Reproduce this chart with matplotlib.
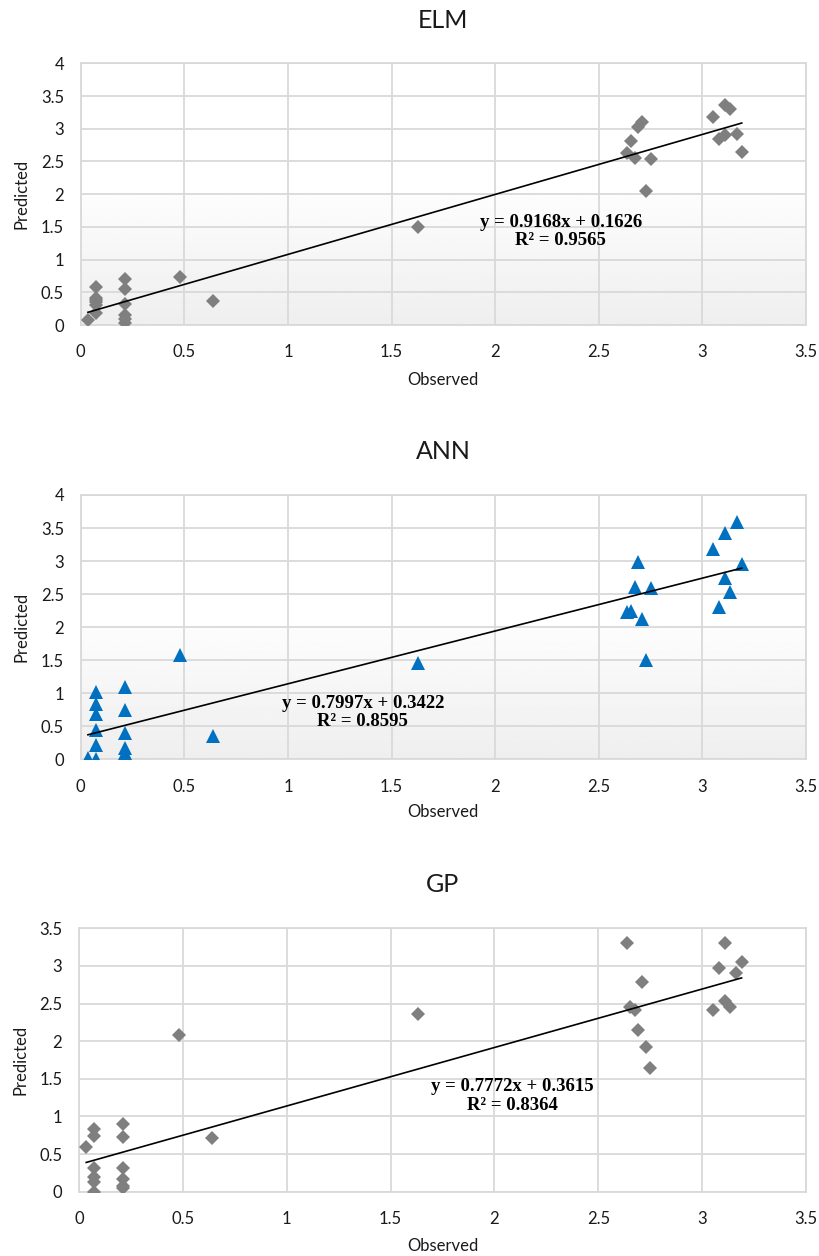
import matplotlib
matplotlib.use('Agg')
import matplotlib.pyplot as plt
import numpy as np

plt.rcParams.update({
    'font.family': ['Lato', 'DejaVu Sans'],
    'font.size': 12,
})

# Observed values (shared by the three models)
observed = [0.035,
            0.074, 0.074, 0.074, 0.074, 0.074, 0.074,
            0.214, 0.214, 0.214, 0.214, 0.214, 0.214,
            0.48, 0.64, 1.63,
            2.636, 2.655, 2.675, 2.69, 2.71, 2.73, 2.75,
            3.05, 3.08, 3.11, 3.11, 3.135, 3.165, 3.19]

elm_pred = [0.08,
            0.58, 0.41, 0.38, 0.35, 0.31, 0.19,
            0.71, 0.55, 0.32, 0.15, 0.10, 0.03,
            0.74, 0.37, 1.50,
            2.63, 2.82, 2.55, 3.03, 3.11, 2.05, 2.53,
            3.18, 2.85, 3.36, 2.90, 3.30, 2.92, 2.65]

ann_pred = [0.02,
            1.02, 0.84, 0.69, 0.45, 0.21, 0.0,
            1.10, 0.75, 0.39, 0.17, 0.10, 0.05,
            1.58, 0.35, 1.46,
            2.23, 2.25, 2.60, 2.99, 2.13, 1.50, 2.59,
            3.18, 2.31, 3.43, 2.74, 2.53, 3.59, 2.95]

gp_pred = [0.59,
           0.83, 0.74, 0.32, 0.20, 0.13, 0.0,
           0.90, 0.73, 0.31, 0.165, 0.076, 0.045,
           2.08, 0.72, 2.36,
           3.31, 2.46, 2.41, 2.15, 2.78, 1.92, 1.65,
           2.42, 2.97, 3.31, 2.53, 2.45, 2.91, 3.05]

model_names = ['ELM', 'ANN', 'GP']
slopes = [0.9168, 0.7997, 0.7772]
intercepts = [0.1626, 0.3422, 0.3615]
r2_values = [0.9565, 0.8595, 0.8364]
y_max = [4, 4, 3.5]

preds = [elm_pred, ann_pred, gp_pred]
markers = ['D', '^', 'D']
marker_colors = ['#7f7f7f', '#0070c0', '#7f7f7f']
marker_sizes = [7.2, 9.5, 7.2]
gradient_bg = [True, True, False]

# axes rectangles in figure fractions
rects = [[0.0984, 0.7412, 0.8845, 0.2084],
         [0.0984, 0.3955, 0.8845, 0.2104],
         [0.0963, 0.0512, 0.8866, 0.2097]]
eq_pos = [(0.662, 0.357), (0.389, 0.177), (0.596, 0.363)]
xlabel_y = [-0.21, -0.2, -0.205]

grid_col = '#d9d9d9'
fig = plt.figure(figsize=(8.2, 12.56), dpi=100)

for i in range(3):
    ax = fig.add_axes(rects[i])
    ax.set_xlim(0, 3.5)
    ax.set_ylim(0, y_max[i])
    ax.set_xticks(np.arange(0, 3.51, 0.5))
    ax.set_yticks(np.arange(0, y_max[i] + 0.01, 0.5))
    ax.xaxis.set_major_formatter(plt.FuncFormatter(lambda v, p: f'{v:g}'))
    ax.yaxis.set_major_formatter(plt.FuncFormatter(lambda v, p: f'{v:g}'))
    ax.tick_params(length=0, labelsize=12, colors='#1a1a1a')
    ax.tick_params(axis='x', pad=14)
    ax.tick_params(axis='y', pad=12)
    ax.grid(True, color=grid_col, linewidth=1.3, zorder=0)
    ax.set_axisbelow(True)
    for s in ax.spines.values():
        s.set_color(grid_col)
        s.set_linewidth(1.3)

    if gradient_bg[i]:
        g = np.concatenate([np.linspace(0.935, 0.99, 60), np.ones(60)])[:, None]
        ax.imshow(g, extent=[0, 1, 0, 1], transform=ax.transAxes, cmap='gray',
                  vmin=0, vmax=1, aspect='auto', origin='lower', zorder=-1)

    ax.plot(observed, preds[i], linestyle='none', marker=markers[i],
            markersize=marker_sizes[i], color=marker_colors[i],
            markeredgewidth=0, zorder=3)

    xs = np.array([min(observed), max(observed)])
    ax.plot(xs, slopes[i] * xs + intercepts[i], color='black', linewidth=1.2, zorder=4)

    ax.text(eq_pos[i][0], eq_pos[i][1],
            f'y = {slopes[i]:.4f}x + {intercepts[i]:.4f}\nR² = {r2_values[i]:.4f}',
            transform=ax.transAxes, ha='center', va='center', fontsize=13.5,
            fontweight='bold', family='Liberation Serif', linespacing=1.1, zorder=5)

    ax.text(0.5, 1.165, model_names[i], transform=ax.transAxes, ha='center',
            va='center', fontsize=18, color='#1a1a1a')
    ax.set_xlabel('Observed', fontsize=12, color='#1a1a1a', va='center')
    ax.set_ylabel('Predicted', fontsize=12, color='#1a1a1a', va='center')
    ax.xaxis.set_label_coords(0.5, xlabel_y[i])
    ax.yaxis.set_label_coords(-0.081, 0.5)

fig.savefig('out.png', dpi=100)
